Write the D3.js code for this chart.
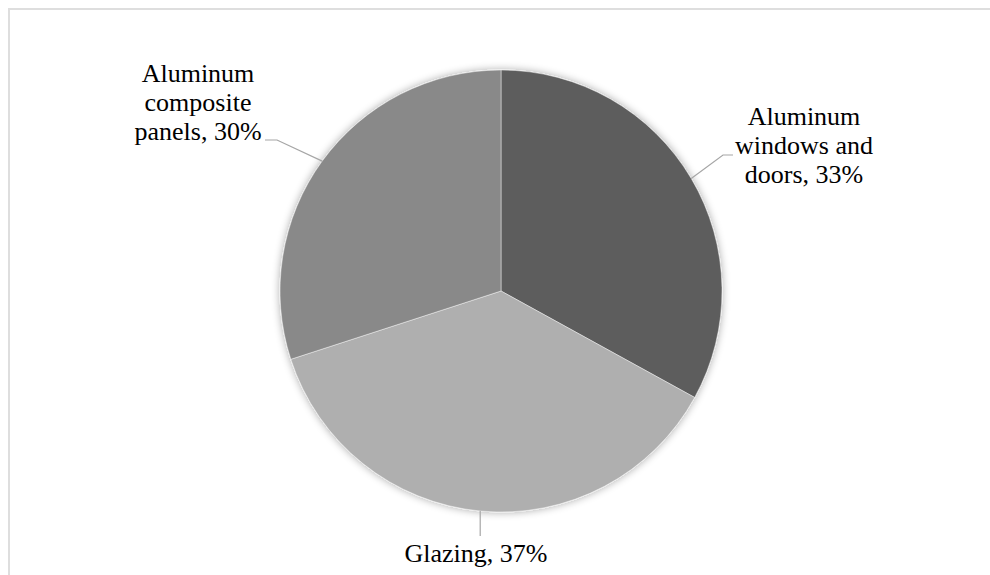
<!DOCTYPE html>
<html>
<head>
<meta charset="utf-8">
<script src="https://cdn.jsdelivr.net/npm/d3@7"></script>
<style>
  html, body { margin: 0; padding: 0; background: #fff; }
  svg { display: block; }
</style>
</head>
<body>
<svg id="chart" width="990" height="575"></svg>
<script>
// Market share by product segment (clockwise from 12 o'clock)
const categories = ["Aluminum windows and doors", "Glazing", "Aluminum composite panels"];
const values = [33, 37, 30];
const labelLines = [
  ["Aluminum", "windows and", "doors, 33%"],
  ["Glazing, 37%"],
  ["Aluminum", "composite", "panels, 30%"]
];
const sliceColors = ["#5d5d5d", "#afafaf", "#898989"];

const W = 990, H = 575;
const cx = 501, cy = 291, R = 221;
const FONT = "'Liberation Serif', 'Times New Roman', serif";

const svg = d3.select("#chart");

// Chart-area frame
svg.append("rect")
  .attr("x", 9).attr("y", 9)
  .attr("width", W + 20).attr("height", H + 20)
  .attr("fill", "none")
  .attr("stroke", "#dedede")
  .attr("stroke-width", 2);

// Soft glow around the pie
const defs = svg.append("defs");
const f = defs.append("filter").attr("id", "glow")
  .attr("x", "-20%").attr("y", "-20%").attr("width", "140%").attr("height", "140%");
f.append("feGaussianBlur").attr("in", "SourceAlpha").attr("stdDeviation", 4).attr("result", "b");
f.append("feComponentTransfer").attr("in", "b").attr("result", "s")
  .append("feFuncA").attr("type", "linear").attr("slope", 0.35);
const m = f.append("feMerge");
m.append("feMergeNode").attr("in", "s");
m.append("feMergeNode").attr("in", "SourceGraphic");

const data = categories.map((c, i) => ({ name: c, value: values[i], lines: labelLines[i], color: sliceColors[i] }));

const pie = d3.pie().sort(null).value(d => d.value).startAngle(0).endAngle(2 * Math.PI);
const arcs = pie(data);
const arc = d3.arc().innerRadius(0).outerRadius(R);

const g = svg.append("g").attr("transform", `translate(${cx},${cy})`);
g.append("g").attr("filter", "url(#glow)")
  .selectAll("path")
  .data(arcs)
  .join("path")
  .attr("d", arc)
  .attr("fill", d => d.data.color)
  .attr("stroke", "rgba(255,255,255,0.55)")
  .attr("stroke-width", 0.8);

// Point on the rim at each slice's middle angle
const rimPoint = d => {
  const a = (d.startAngle + d.endAngle) / 2;
  return [cx + R * Math.sin(a), cy - R * Math.cos(a)];
};

// Label placement: text centre x, first baseline y, and leader elbow/end
const labelLayout = [
  { x: 804, y: 125, bend: [723, 155], end: [733, 155] },
  { x: 476, y: 562, bend: null, end: [481, 536] },
  { x: 198, y: 82, bend: [277, 140], end: [265, 140] }
];
const lineH = 29;

const leaders = svg.append("g");
arcs.forEach((d, i) => {
  const L = labelLayout[i];
  const p0 = rimPoint(d);
  const pts = [p0];
  if (L.bend) pts.push(L.bend);
  pts.push(L.bend ? L.end : [p0[0], L.end[1]]);
  leaders.append("path")
    .attr("d", d3.line()(pts))
    .attr("fill", "none")
    .attr("stroke", "#a6a6a6")
    .attr("stroke-width", 1.2);

  const t = svg.append("text")
    .attr("text-anchor", "middle")
    .style("font-family", FONT)
    .style("font-size", "26px")
    .style("fill", "#000");
  d.data.lines.forEach((ln, j) => {
    t.append("tspan").attr("x", L.x).attr("y", L.y + j * lineH).text(ln);
  });
});
</script>
</body>
</html>
